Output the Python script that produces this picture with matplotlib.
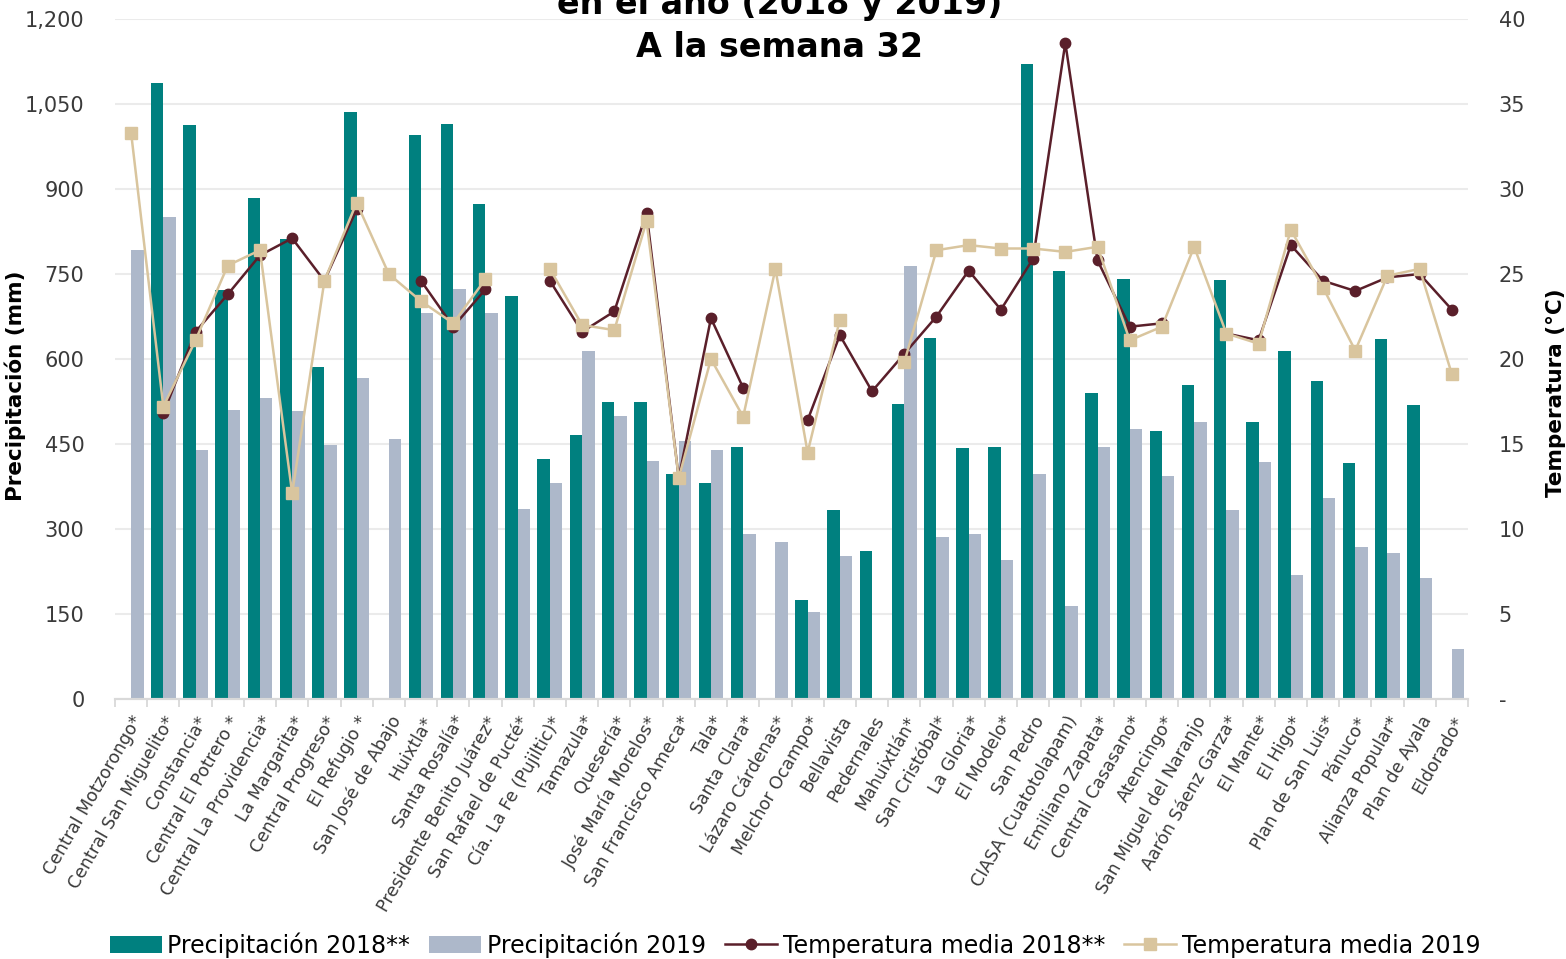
import numpy as np
import matplotlib
matplotlib.use("Agg")
import matplotlib.pyplot as plt
from matplotlib.ticker import FuncFormatter, FixedLocator

plt.rcParams['font.family'] = ['DejaVu Sans']

# ==== data ====
ingenios = ["Central Motzorongo*", "Central San Miguelito*", "Constancia*",
            "Central El Potrero *", "Central La Providencia*", "La Margarita*",
            "Central Progreso*", "El Refugio *", "San José de Abajo", "Huixtla*",
            "Santa Rosalía*", "Presidente Benito Juárez*", "San Rafael de Pucté*",
            "Cía. La Fe (Pujiltic)*", "Tamazula*", "Quesería*", "José María Morelos*",
            "San Francisco Ameca*", "Tala*", "Santa Clara*", "Lázaro Cárdenas*",
            "Melchor Ocampo*", "Bellavista", "Pedernales", "Mahuixtlán*",
            "San Cristóbal*", "La Gloria*", "El Modelo*", "San Pedro",
            "CIASA (Cuatotolapam)", "Emiliano Zapata*", "Central Casasano*",
            "Atencingo*", "San Miguel del Naranjo", "Aarón Sáenz Garza*",
            "El Mante*", "El Higo*", "Plan de San Luis*", "Pánuco*",
            "Alianza Popular*", "Plan de Ayala", "Eldorado*"]

nan = np.nan
prec_2018 = [nan, 1087, 1013, 722, 884, 812, 586, 1036, nan, 995,
             1015, 873, 711, 423, 466, 524, 524, 397, 381, 445,
             nan, 175, 333, 261, 521, 637, 443, 445, 1121, 756,
             540, 742, 473, 554, 739, 489, 614, 561, 417, 635,
             519, nan]
prec_2019 = [792, 851, 439, 510, 531, 508, 448, 566, 459, 681,
             723, 681, 335, 381, 614, 499, 420, 455, 439, 291,
             277, 153, 252, nan, 765, 286, 291, 245, 397, 164,
             445, 476, 393, 489, 333, 419, 219, 355, 268, 257,
             213, 88]
temp_2018 = [nan, 16.8, 21.6, 23.8, 26.1, 27.1, 24.6, 28.8, nan, 24.6,
             21.9, 24.1, nan, 24.6, 21.6, 22.8, 28.6, 13.0, 22.4, 18.3,
             nan, 16.4, 21.4, 18.1, 20.3, 22.5, 25.2, 22.9, 25.9, 38.6,
             25.8, 21.9, 22.1, nan, 21.5, 21.1, 26.7, 24.6, 24.0, 24.8,
             25.0, 22.9]
temp_2019 = [33.3, 17.2, 21.1, 25.5, 26.4, 12.1, 24.6, 29.2, 25.0, 23.4,
             22.1, 24.7, nan, 25.3, 22.0, 21.7, 28.1, 13.0, 20.0, 16.6,
             25.3, 14.5, 22.3, nan, 19.8, 26.4, 26.7, 26.5, 26.5, 26.3,
             26.6, 21.1, 21.9, 26.6, 21.5, 20.9, 27.6, 24.2, 20.5, 24.9,
             25.3, 19.1]

TEAL = "#00807f"
GREY = "#adb8ca"
MAROON = "#5a1f2a"
BEIGE = "#d9c59e"
TXT = "#3a3a3a"

fig = plt.figure(figsize=(15.66, 9.59), dpi=100)
ax = fig.add_axes([115/1566, 1-699/959, 1353/1566, 680/959])
ax2 = ax.twinx()

x = np.arange(len(ingenios))
w = 0.385
ax.bar(x - w/2, prec_2018, width=w, color=TEAL, label="Precipitación 2018**", zorder=2)
ax.bar(x + w/2, prec_2019, width=w, color=GREY, label="Precipitación 2019", zorder=2)

ax2.plot(x, temp_2018, color=MAROON, lw=1.8, marker='o', ms=7.5,
         label="Temperatura media 2018**", zorder=3)
ax2.plot(x, temp_2019, color=BEIGE, lw=1.8, marker='s', ms=8,
         label="Temperatura media 2019", zorder=4)

# left axis
ax.set_xlim(-0.5, len(ingenios) - 0.5)
ax.set_ylim(0, 1200)
ax.set_yticks(np.arange(0, 1201, 150))
ax.yaxis.set_major_formatter(FuncFormatter(lambda v, p: f"{int(v):,}"))
ax.set_axisbelow(True)
ax.grid(axis='y', color='#ebebeb', lw=1.5)
ax.tick_params(axis='y', length=0, pad=22, labelsize=15, labelcolor=TXT)
ax.set_ylabel("Precipitación (mm)", fontsize=15.5, fontweight='bold')
ax.yaxis.set_label_coords(-0.066, 0.46)

# categories
ax.set_xticks(x)
ax.set_xticklabels(ingenios, rotation=60, ha='right', rotation_mode='anchor',
                   fontsize=12.5, color=TXT)
ax.xaxis.set_minor_locator(FixedLocator(np.arange(-0.5, len(ingenios), 1.0)))
ax.tick_params(axis='x', which='major', length=0, pad=10)
ax.tick_params(axis='x', which='minor', length=6, width=1.3, color='#d9d9d9')

# right axis
ax2.set_ylim(0, 40)
ax2.set_yticks(np.arange(0, 41, 5))
ax2.yaxis.set_major_formatter(FuncFormatter(lambda v, p: "-" if v == 0 else f"{int(v)}"))
ax2.tick_params(axis='y', length=0, pad=22, labelsize=15, labelcolor=TXT)
ax2.set_ylabel("Temperatura (°C)", fontsize=15.5, fontweight='bold')
ax2.yaxis.set_label_coords(1.058, 0.45)

for a in (ax, ax2):
    for s in ('top', 'left', 'right'):
        a.spines[s].set_visible(False)
    a.spines['bottom'].set_color('#d9d9d9')
    a.spines['bottom'].set_linewidth(1.5)

# title (top line is cut off in the original)
fig.text(780/1566, 1-14/959, "en el año (2018 y 2019)", ha='center', va='baseline',
         fontsize=24, fontweight='bold')
fig.text(780/1566, 1-57/959, "A la semana 32", ha='center', va='baseline',
         fontsize=24, fontweight='bold')

h1, l1 = ax.get_legend_handles_labels()
h2, l2 = ax2.get_legend_handles_labels()
fig.legend(h1 + h2, l1 + l2, loc='center', bbox_to_anchor=(795/1566, 1-945/959),
           ncol=4, frameon=False, fontsize=17, handlelength=2.2, handleheight=0.7,
           handletextpad=0.25, columnspacing=0.8)

fig.savefig("out.png", dpi=100)
